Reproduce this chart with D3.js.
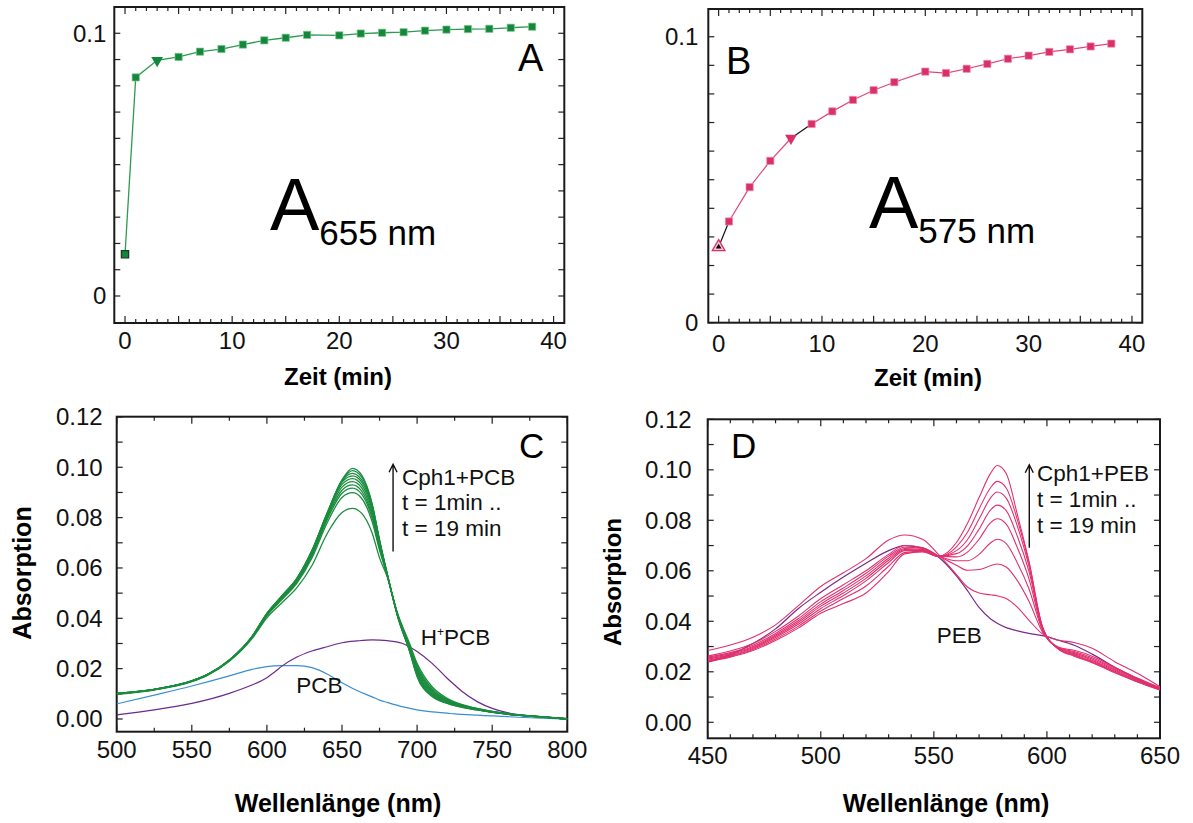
<!DOCTYPE html>
<html><head><meta charset="utf-8">
<script src="https://cdn.jsdelivr.net/npm/d3@7"></script>
<style>body{margin:0;background:#fff}svg{display:block;font-family:"Liberation Sans",Arial,sans-serif}</style>
</head><body>
<script>
// ---------- DATA ----------
// Panel A: A655 vs time
const timeA = [0,1,3,5,7,9,11,13,15,17,20,22,24,26,28,30,32,34,36,38];
const absA655 = [0.0159,0.0832,0.0897,0.0910,0.0930,0.0940,0.0957,0.0973,0.0983,0.0994,0.0992,0.0999,0.1002,0.1004,0.1010,0.1014,0.1016,0.1017,0.1021,0.1025];
// Panel B: A575 vs time
const timeB = [0,1,3,5,7,9,11,13,15,17,20,22,24,26,28,30,32,34,36,38];
const absB575 = [0.0265,0.0354,0.0474,0.0566,0.0645,0.0695,0.0739,0.0779,0.0813,0.0841,0.0878,0.0873,0.0888,0.0905,0.0923,0.0934,0.0947,0.0956,0.0966,0.0976];
const triIdxA = 2, triIdxB = 4;          // down-triangle markers
const blackSegB = [0, 4];                // segments drawn in black in panel B

// Panel C: spectra Cph1+PCB (t = 1 .. 19 min), free PCB and H+PCB
const wlC = [500,525,550,560,575,590,600,610,620,630,640,650,657,663,670,675,680,687,695,700,710,720,740,760,780,800];
const pcbT01 = [.0098,.0115,.0148,.0172,.0229,.0318,.0402,.0462,.0522,.0610,.0735,.0820,.0837,.0818,.0740,.0640,.0566,.0420,.0300,.0221,.0128,.0082,.0042,.0022,.0010,.0000];
const pcbT03 = [.0100,.0116,.0149,.0173,.0231,.0322,.0410,.0474,.0540,.0640,.0778,.0880,.0899,.0877,.0785,.0670,.0572,.0416,.0290,.0212,.0120,.0078,.0041,.0021,.0010,.0000];
const pcbT05 = [.0100,.0117,.0150,.0174,.0232,.0323,.0413,.0478,.0546,.0648,.0790,.0897,.0917,.0894,.0799,.0680,.0574,.0415,.0286,.0206,.0114,.0076,.0040,.0021,.0010,.0000];
const pcbT07 = [.0101,.0117,.0150,.0174,.0232,.0324,.0415,.0481,.0550,.0654,.0798,.0909,.0930,.0906,.0810,.0688,.0575,.0414,.0283,.0200,.0109,.0073,.0039,.0020,.0010,.0000];
const pcbT09 = [.0101,.0117,.0150,.0174,.0233,.0325,.0416,.0484,.0553,.0659,.0804,.0921,.0943,.0919,.0821,.0695,.0576,.0413,.0280,.0194,.0104,.0071,.0038,.0020,.0009,.0000];
const pcbT11 = [.0101,.0118,.0151,.0175,.0233,.0325,.0417,.0486,.0555,.0663,.0809,.0932,.0955,.0931,.0832,.0701,.0577,.0412,.0277,.0188,.0100,.0069,.0038,.0020,.0009,.0000];
const pcbT13 = [.0102,.0118,.0151,.0175,.0233,.0326,.0418,.0487,.0557,.0666,.0812,.0941,.0966,.0942,.0842,.0705,.0578,.0411,.0274,.0183,.0096,.0067,.0037,.0020,.0009,.0000];
const pcbT15 = [.0102,.0118,.0151,.0175,.0234,.0326,.0419,.0488,.0558,.0668,.0814,.0946,.0976,.0951,.0850,.0708,.0578,.0410,.0272,.0177,.0093,.0065,.0037,.0019,.0009,.0000];
const pcbT17 = [.0102,.0118,.0151,.0175,.0234,.0327,.0420,.0489,.0559,.0669,.0816,.0948,.0987,.0962,.0854,.0710,.0579,.0409,.0270,.0172,.0091,.0063,.0036,.0019,.0009,.0000];
const pcbT19 = [.0102,.0118,.0151,.0175,.0234,.0327,.0420,.0490,.0560,.0670,.0817,.0950,.0996,.0970,.0857,.0711,.0579,.0407,.0268,.0168,.0089,.0062,.0036,.0019,.0009,.0000];
const wlFree = [500,525,550,575,590,600,605,610,620,630,640,650,660,670,675,680,690,700,710,720,725,730,740,750,760,775,800];
const freePCB = [.0060,.0095,.0131,.0171,.0197,.0208,.0211,.0212,.0212,.0204,.0179,.0144,.0113,.0088,.0075,.0066,.0049,.0036,.0028,.0023,.0020,.0018,.0015,.0012,.0009,.0005,.0000];
const freeHPCB = [.0016,.0036,.0062,.0102,.0135,.0164,.0186,.0210,.0246,.0270,.0287,.0303,.0310,.0314,.0313,.0311,.0301,.0268,.0221,.0162,.0135,.0109,.0069,.0042,.0025,.0012,.0003];

// Panel D: spectra Cph1+PEB (t = 1 .. 19 min) and free PEB
const wlD = [450,460,470,480,490,500,510,520,530,537,545,552,560,565,570,575,578,582,587,592,598,605,612,620,630,640,650];
const pebT01 = [.0284,.0306,.0337,.0386,.0461,.0538,.0592,.0648,.0722,.0742,.0725,.0665,.0585,.0535,.0512,.0505,.0501,.0490,.0455,.0405,.0350,.0326,.0316,.0293,.0240,.0194,.0141];
const pebT03 = [.0262,.0282,.0312,.0360,.0420,.0490,.0545,.0600,.0665,.0700,.0692,.0660,.0622,.0602,.0605,.0620,.0627,.0615,.0560,.0480,.0358,.0298,.0285,.0262,.0218,.0175,.0137];
const pebT05 = [.0258,.0276,.0305,.0352,.0410,.0478,.0532,.0590,.0658,.0693,.0688,.0659,.0640,.0640,.0665,.0710,.0725,.0708,.0630,.0530,.0365,.0296,.0280,.0256,.0214,.0172,.0136];
const pebT07 = [.0254,.0272,.0300,.0346,.0402,.0468,.0522,.0580,.0650,.0688,.0685,.0658,.0655,.0675,.0725,.0790,.0806,.0785,.0690,.0570,.0370,.0294,.0276,.0251,.0210,.0169,.0134];
const pebT09 = [.0250,.0268,.0296,.0341,.0395,.0460,.0512,.0570,.0642,.0684,.0682,.0658,.0668,.0700,.0765,.0840,.0860,.0838,.0735,.0600,.0374,.0293,.0272,.0246,.0206,.0166,.0132];
const pebT11 = [.0246,.0264,.0292,.0336,.0388,.0451,.0502,.0560,.0633,.0680,.0680,.0657,.0680,.0725,.0805,.0888,.0912,.0888,.0775,.0620,.0377,.0292,.0268,.0242,.0202,.0163,.0130];
const pebT13 = [.0243,.0261,.0288,.0330,.0380,.0441,.0490,.0540,.0618,.0672,.0678,.0657,.0695,.0755,.0845,.0928,.0954,.0928,.0800,.0635,.0379,.0291,.0265,.0239,.0199,.0161,.0129];
const pebT19 = [.0240,.0258,.0284,.0324,.0373,.0432,.0470,.0512,.0597,.0667,.0675,.0657,.0712,.0790,.0890,.0985,.1017,.0985,.0820,.0640,.0380,.0290,.0262,.0236,.0196,.0160,.0128];
const freePEB = [.0238,.0268,.0312,.0370,.0450,.0515,.0575,.0630,.0680,.0700,.0690,.0655,.0580,.0520,.0455,.0410,.0392,.0375,.0362,.0352,.0343,.0325,.0305,.0270,.0218,.0172,.0131];

// ---------- COLORS ----------
const green = "#13873b", greenLine = "#2b9a52", greenSpec = "#1a8c3e";
const pink = "#d92f6b", pinkLine = "#e2457c", pinkSpec = "#e0306e";
const blue = "#3a8fd0", purple = "#6b2a8e", purpleD = "#7a2a88";

const svg = d3.select("body").append("svg").attr("width",1193).attr("height",823);

function frame(g, x, y, opts){
  const [x0,x1] = x.range(), [y1,y0] = y.range();
  const tg = g.append("g").attr("stroke","#222").attr("stroke-width",1.2);
  opts.xt.forEach(v=>{
    const L = opts.xMajor(v) ? 7 : 4;
    tg.append("line").attr("x1",x(v)).attr("x2",x(v)).attr("y1",y1).attr("y2",y1-L);
    tg.append("line").attr("x1",x(v)).attr("x2",x(v)).attr("y1",y0).attr("y2",y0+L);
  });
  opts.yt.forEach(v=>{
    const L = 6;
    tg.append("line").attr("y1",y(v)).attr("y2",y(v)).attr("x1",x0).attr("x2",x0+L);
    tg.append("line").attr("y1",y(v)).attr("y2",y(v)).attr("x1",x1).attr("x2",x1-L);
  });
  g.append("rect").attr("x",x0).attr("y",y0).attr("width",x1-x0).attr("height",y1-y0)
    .attr("fill","none").attr("stroke","#1a1a1a").attr("stroke-width",2);
  const lab = g.append("g").attr("font-size",24).attr("fill","#111");
  opts.xl.forEach(v=>{
    lab.append("text").attr("x",x(v)).attr("y",y1+opts.xlDy).attr("text-anchor","middle").text(opts.xf(v));
  });
  opts.yl.forEach(v=>{
    lab.append("text").attr("x",x0-opts.ylDx).attr("y",y(v)+8.5).attr("text-anchor","end").text(opts.yf(v));
  });
}
function range(a,b,s){const r=[];for(let v=a;v<=b+1e-9;v+=s)r.push(+v.toFixed(4));return r;}

// ---------- PANEL A ----------
{
  const g = svg.append("g");
  const x = d3.scaleLinear().domain([-1,41]).range([114.3,564.3]);
  const y = d3.scaleLinear().domain([-0.01028,0.1100]).range([323,7]);
  frame(g,x,y,{xt:range(0,40,1),xMajor:v=>v%5===0,yt:range(0,0.1,0.01),
    xl:[0,10,20,30,40],xf:d=>d,xlDy:26,yl:[0,0.1],yf:d=>d===0?"0":"0.1",ylDx:8});
  const pts = timeA.map((t,i)=>[t,absA655[i]]);
  g.append("path").datum(pts).attr("fill","none").attr("stroke",greenLine).attr("stroke-width",1.3)
    .attr("d",d3.line().x(d=>x(d[0])).y(d=>y(d[1])));
  pts.forEach((p,i)=>{
    if(i===triIdxA){
      g.append("path").attr("d",d3.symbol(d3.symbolTriangle,60)()).attr("fill",green)
        .attr("transform",`translate(${x(p[0])},${y(p[1])}) rotate(180)`);
    } else {
      g.append("path").attr("d",d3.symbol(d3.symbolSquare,52)()).attr("fill",green)
        .attr("stroke",i===0?"#1d3b22":"#7cc48f").attr("stroke-width",i===0?1.3:0.7)
        .attr("transform",`translate(${x(p[0])},${y(p[1])})`);
    }
  });
  g.append("text").attr("x",518).attr("y",71).attr("font-size",38).text("A");
  const t = g.append("text").attr("x",270).attr("y",230).attr("fill","#000");
  t.append("tspan").attr("font-size",74).text("A");
  t.append("tspan").attr("font-size",35).attr("dy",15).text("655 nm");
  g.append("text").attr("x",338).attr("y",385).attr("text-anchor","middle")
    .attr("font-size",24).attr("font-weight","bold").text("Zeit (min)");
}
// ---------- PANEL B ----------
{
  const g = svg.append("g");
  const x = d3.scaleLinear().domain([-1,41]).range([708.3,1142.3]);
  const y = d3.scaleLinear().domain([0,0.1097]).range([322.7,9]);
  frame(g,x,y,{xt:range(0,40,1),xMajor:v=>v%5===0,yt:range(0,0.1,0.01),
    xl:[0,10,20,30,40],xf:d=>d,xlDy:29,yl:[0,0.1],yf:d=>d===0?"0":"0.1",ylDx:10});
  const pts = timeB.map((t,i)=>[t,absB575[i]]);
  for(let i=0;i<pts.length-1;i++){
    g.append("line").attr("x1",x(pts[i][0])).attr("y1",y(pts[i][1]))
      .attr("x2",x(pts[i+1][0])).attr("y2",y(pts[i+1][1]))
      .attr("stroke",blackSegB.includes(i)?"#111":pinkLine).attr("stroke-width",1.2);
  }
  pts.forEach((p,i)=>{
    const tr = `translate(${x(p[0])},${y(p[1])})`;
    if(i===0){
      g.append("path").attr("d",d3.symbol(d3.symbolTriangle,70)()).attr("fill","#f6c6d6")
        .attr("stroke",pink).attr("stroke-width",1.3).attr("transform",tr);
      g.append("path").attr("d",d3.symbol(d3.symbolTriangle,14)()).attr("fill","#000").attr("transform",tr);
    } else if(i===triIdxB){
      g.append("path").attr("d",d3.symbol(d3.symbolTriangle,60)()).attr("fill",pink)
        .attr("transform",tr+" rotate(180)");
    } else {
      g.append("path").attr("d",d3.symbol(d3.symbolSquare,52)()).attr("fill",pink)
        .attr("stroke","#f08aae").attr("stroke-width",0.7).attr("transform",tr);
    }
  });
  g.append("text").attr("x",726).attr("y",74).attr("font-size",38).text("B");
  const t = g.append("text").attr("x",869).attr("y",228).attr("fill","#000");
  t.append("tspan").attr("font-size",74).text("A");
  t.append("tspan").attr("font-size",35).attr("dy",15).text("575 nm");
  g.append("text").attr("x",928).attr("y",386).attr("text-anchor","middle")
    .attr("font-size",24).attr("font-weight","bold").text("Zeit (min)");
}
// ---------- PANEL C ----------
{
  const g = svg.append("g");
  const x = d3.scaleLinear().domain([500,800]).range([116.7,567.3]);
  const y = d3.scaleLinear().domain([-0.00505,0.1201]).range([731.7,416.7]);
  svg.append("clipPath").attr("id","clipC").append("rect")
    .attr("x",116.7).attr("y",416.7).attr("width",450.6).attr("height",315);
  frame(g,x,y,{xt:range(500,800,25),xMajor:v=>v%50===0,yt:range(0,0.12,0.01),
    xl:range(500,800,50),xf:d=>d,xlDy:26,yl:range(0,0.12,0.02),yf:d3.format(".2f"),ylDx:14});
  const line = d3.line().curve(d3.curveMonotoneX);
  const pg = g.append("g").attr("clip-path","url(#clipC)").attr("fill","none");
  pg.append("path").attr("stroke",blue).attr("stroke-width",1.2)
    .attr("d",line(wlFree.map((w,i)=>[x(w),y(freePCB[i])])));
  pg.append("path").attr("stroke",purple).attr("stroke-width",1.2)
    .attr("d",line(wlFree.map((w,i)=>[x(w),y(freeHPCB[i])])));
  [pcbT01,pcbT03,pcbT05,pcbT07,pcbT09,pcbT11,pcbT13,pcbT15,pcbT17,pcbT19].forEach(s=>{
    pg.append("path").attr("stroke",greenSpec).attr("stroke-width",1.3)
      .attr("d",line(wlC.map((w,i)=>[x(w),y(s[i])])));
  });
  const ax = x(684);
  g.append("path").attr("d",`M${ax},${y(0.0665)}V${y(0.1012)}M${ax-4},${y(0.1012)+8}L${ax},${y(0.1012)}L${ax+4},${y(0.1012)+8}`)
    .attr("fill","none").attr("stroke","#111").attr("stroke-width",1.4);
  const an = g.append("g").attr("font-size",22.5).attr("fill","#111");
  an.append("text").attr("x",x(690)).attr("y",y(0.0931)).text("Cph1+PCB");
  an.append("text").attr("x",x(690)).attr("y",y(0.0831)).text("t = 1min ..");
  an.append("text").attr("x",x(690)).attr("y",y(0.0728)).text("t = 19 min");
  const h = an.append("text").attr("x",x(702.5)).attr("y",y(0.0294));
  h.append("tspan").text("H");
  h.append("tspan").attr("font-size",12).attr("dy",-9).text("+");
  h.append("tspan").attr("dy",9).text("PCB");
  an.append("text").attr("x",x(619.5)).attr("y",y(0.0105)).text("PCB");
  g.append("text").attr("x",519).attr("y",458).attr("font-size",35).text("C");
  g.append("text").attr("x",338).attr("y",812).attr("text-anchor","middle")
    .attr("font-size",25).attr("font-weight","bold").text("Wellenlänge (nm)");
  g.append("text").attr("transform","translate(31,573) rotate(-90)").attr("text-anchor","middle")
    .attr("font-size",25).attr("font-weight","bold").text("Absorption");
}
// ---------- PANEL D ----------
{
  const g = svg.append("g");
  const x = d3.scaleLinear().domain([450,650]).range([707.7,1160]);
  const y = d3.scaleLinear().domain([-0.00634,0.12]).range([738.3,419.3]);
  svg.append("clipPath").attr("id","clipD").append("rect")
    .attr("x",707.7).attr("y",419.3).attr("width",452.3).attr("height",319);
  frame(g,x,y,{xt:range(450,650,10),xMajor:v=>v%50===0,yt:range(0,0.12,0.01),
    xl:range(450,650,50),xf:d=>d,xlDy:26,yl:range(0,0.12,0.02),yf:d3.format(".2f"),ylDx:16});
  const line = d3.line().curve(d3.curveMonotoneX);
  const pg = g.append("g").attr("clip-path","url(#clipD)").attr("fill","none");
  pg.append("path").attr("stroke",purpleD).attr("stroke-width",1.2)
    .attr("d",line(wlD.map((w,i)=>[x(w),y(freePEB[i])])));
  [pebT01,pebT03,pebT05,pebT07,pebT09,pebT11,pebT13,pebT19].forEach(s=>{
    pg.append("path").attr("stroke",pinkSpec).attr("stroke-width",1.1)
      .attr("d",line(wlD.map((w,i)=>[x(w),y(s[i])])));
  });
  const ax = x(592.2);
  g.append("path").attr("d",`M${ax},${y(0.0691)}V${y(0.102)}M${ax-4},${y(0.102)+8}L${ax},${y(0.102)}L${ax+4},${y(0.102)+8}`)
    .attr("fill","none").attr("stroke","#111").attr("stroke-width",1.4);
  const an = g.append("g").attr("font-size",22.5).attr("fill","#111");
  an.append("text").attr("x",x(595.6)).attr("y",y(0.0956)).text("Cph1+PEB");
  an.append("text").attr("x",x(595.6)).attr("y",y(0.0854)).text("t = 1min ..");
  an.append("text").attr("x",x(595.6)).attr("y",y(0.0751)).text("t = 19 min");
  an.append("text").attr("x",x(551.3)).attr("y",y(0.0315)).text("PEB");
  g.append("text").attr("x",731).attr("y",458).attr("font-size",35).text("D");
  g.append("text").attr("x",946).attr("y",812).attr("text-anchor","middle")
    .attr("font-size",25).attr("font-weight","bold").text("Wellenlänge (nm)");
  g.append("text").attr("transform","translate(621,582) rotate(-90)").attr("text-anchor","middle")
    .attr("font-size",24).attr("font-weight","bold").text("Absorption");
}
</script>
</body></html>
